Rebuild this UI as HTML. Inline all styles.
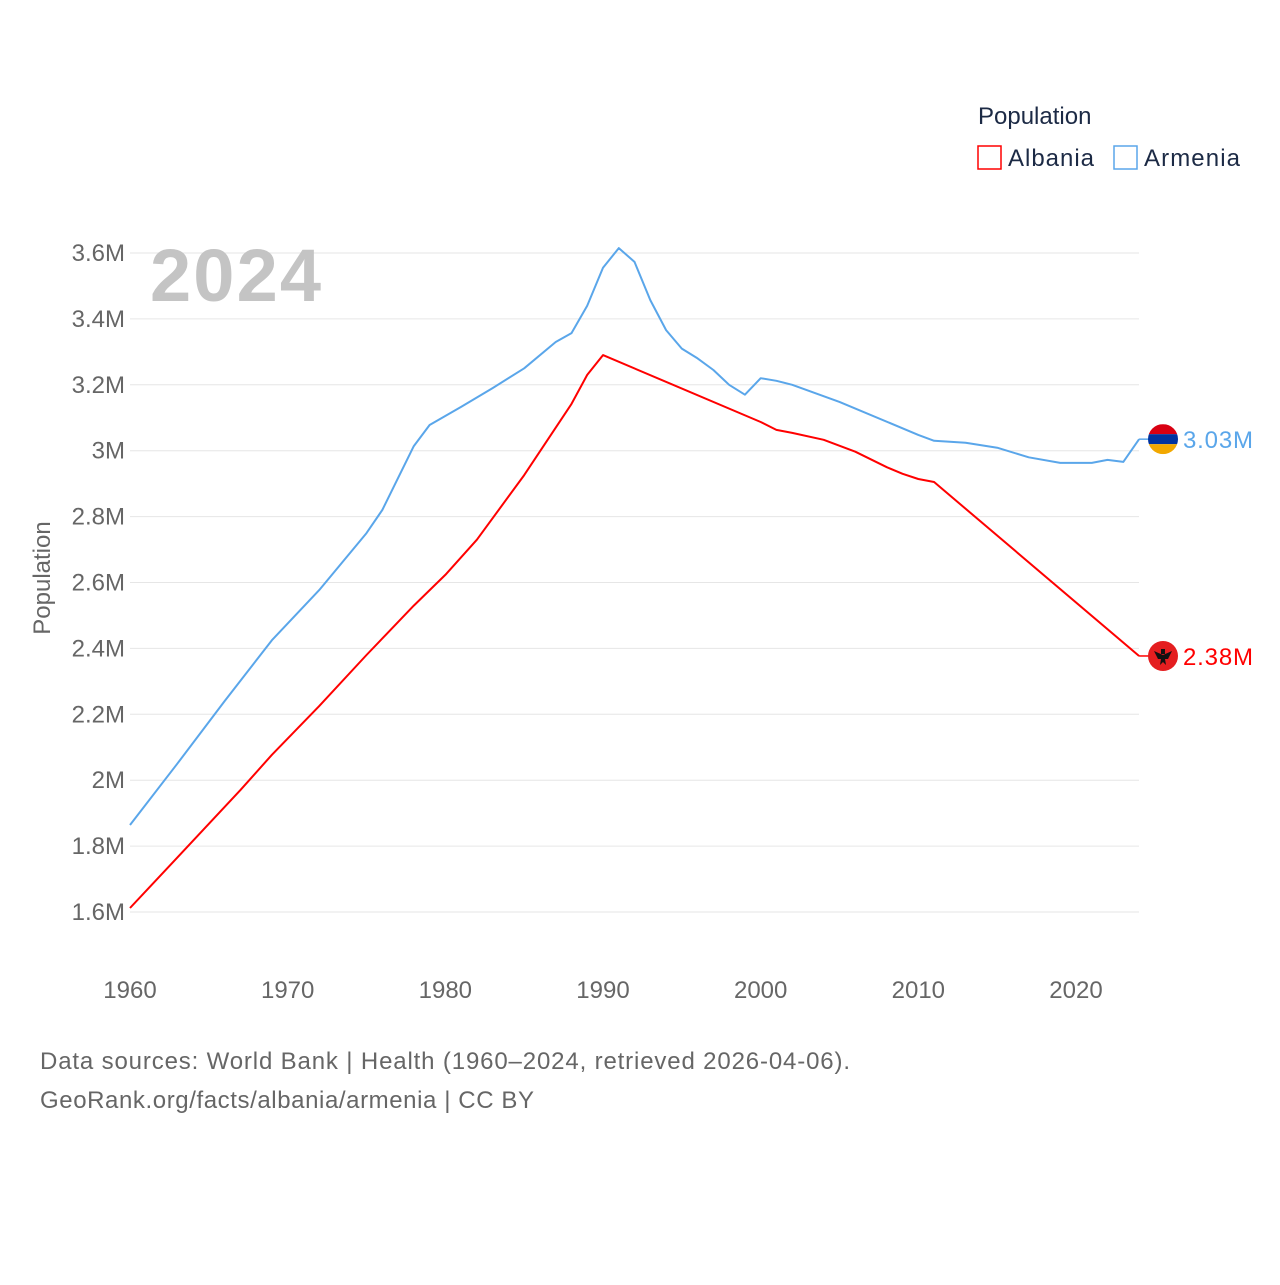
<!DOCTYPE html>
<html><head><meta charset="utf-8"><style>
body{margin:0;background:#fff;font-family:"Liberation Sans",sans-serif;}
#wrap{position:relative;width:1280px;height:1280px;}
svg text{font-family:"Liberation Sans",sans-serif;}
</style></head><body>
<div id="wrap">
<svg id="chart" width="1280" height="1280">
  <text x="978" y="124" font-size="24" fill="#1c2a45">Population</text>
  <g>
    <rect x="978" y="146" width="23" height="23" fill="none" stroke="#ff0000" stroke-width="1.5"/>
    <text x="1008" y="166" font-size="24" fill="#1c2a45" textLength="86">Albania</text>
  </g>
  <g>
    <rect x="1114" y="146" width="23" height="23" fill="none" stroke="#5aa6ea" stroke-width="1.5"/>
    <text x="1144" y="166" font-size="24" fill="#1c2a45" textLength="96">Armenia</text>
  </g>
  <g id="grid"></g>
  <g id="yticks"></g>
  <g id="xticks"></g>
  <text x="150" y="301" font-size="74" font-weight="bold" fill="#c4c4c4" textLength="171">2024</text>
  <text transform="translate(50,578) rotate(-90)" text-anchor="middle" font-size="24" fill="#666">Population</text>
  <g id="series"></g>
  <text x="40" y="1069" font-size="24" fill="#666" textLength="810">Data sources: World Bank | Health (1960–2024, retrieved 2026-04-06).</text>
  <text x="40" y="1108" font-size="24" fill="#666" textLength="494">GeoRank.org/facts/albania/armenia | CC BY</text>
</svg>
</div>
<script>
const yTicks=[1.6,1.8,2.0,2.2,2.4,2.6,2.8,3.0,3.2,3.4,3.6];
const yTickLabels=["1.6M","1.8M","2M","2.2M","2.4M","2.6M","2.8M","3M","3.2M","3.4M","3.6M"];
const xTicks=[1960,1970,1980,1990,2000,2010,2020];
const albaniaYears=[1960,1963,1967,1969,1972,1975,1978,1980,1982,1985,1988,1989,1990,2000,2001,2002,2004,2006,2008,2009,2010,2011,2024];
const albaniaValues=[1.612,1.765,1.97,2.077,2.225,2.38,2.53,2.623,2.73,2.926,3.142,3.23,3.29,3.087,3.063,3.054,3.033,2.997,2.95,2.93,2.914,2.905,2.377];
const armeniaYears=[1960,1963,1966,1969,1972,1975,1976,1978,1979,1981,1983,1985,1987,1988,1989,1990,1991,1992,1993,1994,1995,1996,1997,1998,1999,2000,2001,2002,2005,2010,2011,2013,2015,2017,2019,2021,2022,2023,2024];
const armeniaValues=[1.864,2.05,2.24,2.425,2.577,2.75,2.82,3.014,3.078,3.133,3.19,3.25,3.33,3.357,3.44,3.555,3.615,3.573,3.457,3.366,3.31,3.28,3.245,3.2,3.17,3.22,3.212,3.2,3.148,3.048,3.03,3.024,3.009,2.98,2.963,2.963,2.972,2.966,3.035];
const NS="http://www.w3.org/2000/svg";
function X(yr){return 130+(yr-1960)*(1076-130)/60;}
function Y(v){return 912-(v-1.6)*(912-253)/2.0;}
function mk(tag,attrs,parent){const e=document.createElementNS(NS,tag);for(const k in attrs)e.setAttribute(k,attrs[k]);parent.appendChild(e);return e;}
const grid=document.getElementById('grid'),yt=document.getElementById('yticks'),xt=document.getElementById('xticks'),ser=document.getElementById('series');
yTicks.forEach((v,i)=>{
  const l=mk('line',{x1:130,x2:1139,y1:Y(v),y2:Y(v),stroke:'#e6e6e6','stroke-width':1},grid);
  
  
  const t=mk('text',{x:125,y:Y(v)+8,'text-anchor':'end','font-size':24,fill:'#666'},yt);
  t.textContent=yTickLabels[i];
  
  
});
xTicks.forEach(yr=>{
  const t=mk('text',{x:X(yr),y:998,'text-anchor':'middle','font-size':24,fill:'#666'},xt);
  t.textContent=yr;
  
  
});
function drawSeries(years,vals,color,name,label){
  const d=years.map((y,i)=>(i?'L':'M')+X(y).toFixed(1)+','+Y(vals[i]).toFixed(1)).join(' ');
  const p=mk('path',{d:d,fill:'none',stroke:color,'stroke-width':2,'stroke-linejoin':'round'},ser);
  
  
  const last=vals[vals.length-1],lx=X(years[years.length-1]),ly=Y(last);
  const ld=mk('line',{x1:lx,x2:lx+12,y1:ly,y2:ly,stroke:color,'stroke-width':1.5},ser);
  
  
  const t=mk('text',{x:1183,y:ly+9,'font-size':24,fill:color,textLength:70},ser);
  t.textContent=label;
  
  
  return ly;
}
const ay=drawSeries(albaniaYears,albaniaValues,'#ff0000','albania','2.38M');
const my=drawSeries(armeniaYears,armeniaValues,'#5aa6ea','armenia','3.03M');
const cx=1163;
const defs=mk('defs',{},ser);
const cp=mk('clipPath',{id:'cpa'},defs);mk('circle',{cx:cx,cy:my,r:15},cp);
const fa=mk('g',{'clip-path':'url(#cpa)'},ser);


mk('rect',{x:cx-15,y:my-15,width:30,height:10,fill:'#d90012'},fa);
mk('rect',{x:cx-15,y:my-5,width:30,height:10,fill:'#0033a0'},fa);
mk('rect',{x:cx-15,y:my+5,width:30,height:10,fill:'#f2a800'},fa);
const fb=mk('g',{},ser);


mk('circle',{cx:cx,cy:ay,r:15,fill:'#e41e20'},fb);
mk('path',{d:`M${cx-9},${ay-5} L${cx},${ay-1} L${cx+9},${ay-5} L${cx+5},${ay+3} L${cx+2},${ay+3} L${cx+3},${ay+9} L${cx},${ay+6} L${cx-3},${ay+9} L${cx-2},${ay+3} L${cx-5},${ay+3} Z M${cx-2},${ay-7} h4 v5 h-4 Z`,fill:'#111'},fb);
</script>
</body></html>
